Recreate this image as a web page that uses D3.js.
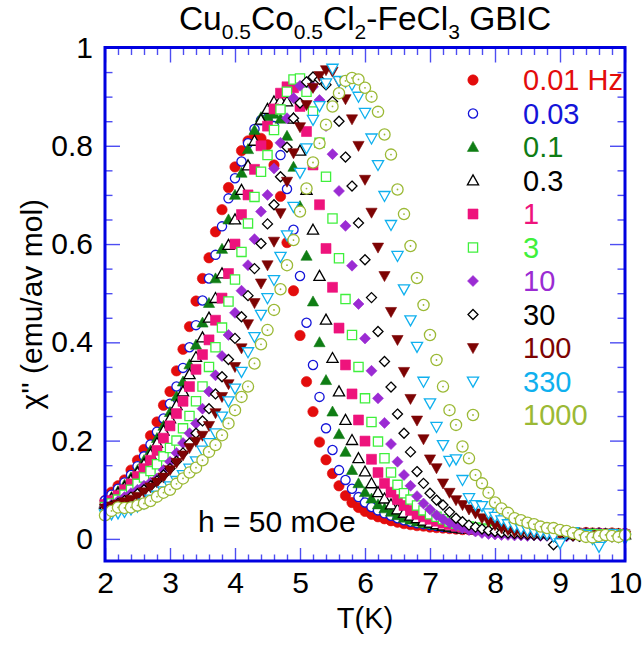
<!DOCTYPE html>
<html>
<head>
<meta charset="utf-8">
<script src="https://cdn.jsdelivr.net/npm/d3@7"></script>
<style>
  html, body { margin: 0; padding: 0; background: #fff; }
  svg { display: block; font-family: "Liberation Sans", Arial, Helvetica, sans-serif; }
</style>
</head>
<body>
<svg id="chart" width="643" height="651"></svg>
<script>
// Temperature grid of the ac-susceptibility sweep (K)
const temperatureK = [
  2.0, 2.1, 2.2, 2.3, 2.4, 2.5, 2.6, 2.7, 2.8, 2.9,
  3.0, 3.1, 3.2, 3.3, 3.4, 3.5, 3.6, 3.7, 3.8, 3.9,
  4.0, 4.1, 4.2, 4.3, 4.4, 4.5, 4.6, 4.7, 4.8, 4.9,
  5.0, 5.1, 5.2, 5.3, 5.4, 5.5, 5.6, 5.7, 5.8, 5.9,
  6.0, 6.1, 6.2, 6.3, 6.4, 6.5, 6.6, 6.7, 6.8, 6.9,
  7.0, 7.1, 7.2, 7.3, 7.4, 7.5, 7.6, 7.7, 7.8, 7.9,
  8.0, 8.1, 8.2, 8.3, 8.4, 8.5, 8.6, 8.7, 8.8, 8.9,
  9.0, 9.1, 9.2, 9.3, 9.4, 9.5, 9.6, 9.7, 9.8, 9.9, 10.0
];

// Frequency labels of the legend
const frequencyLabels = ["0.01 Hz", "0.03", "0.1", "0.3", "1", "3", "10", "30", "100", "330", "1000"];

// chi'' (emu/av mol) for each drive frequency, one value per temperature
const chi_0p01Hz = [
  .078, .095, .108, .12, .14, .16, .182, .21, .238, .272,
  .30, .342, .386, .432, .484, .53, .572, .625, .67, .715,
  .757, .79, .81, .82, .815, .802, .761, .697, .603, .505,
  .414, .32, .259, .197, .161, .133, .108, .088, .074, .064,
  .056, .05, .045, .041, .037, .034, .031, .029, .027, .026,
  .024, .023, .022, .021, .02, .019, .019, .018, .018, .017,
  .017, .016, .016, .015, .016, .015, .014, .015, .014, .013,
  .014, .013, .013, .012, .013, .012, .012, .011, .012, .011, .011
];
const chi_0p03Hz = [
  .078, .09, .102, .115, .13, .148, .168, .192, .218, .245,
  .275, .31, .348, .39, .435, .485, .53, .578, .636, .693,
  .734, .768, .805, .834, .852, .856, .84, .781, .712, .629,
  .535, .44, .354, .289, .225, .181, .14, .12, .102, .085,
  .074, .065, .058, .052, .047, .042, .038, .035, .032, .03,
  .028, .026, .024, .023, .022, .021, .02, .019, .019, .018,
  .017, .017, .016, .016, .015, .015, .014, .014, .014, .013,
  .013, .013, .012, .012, .012, .011, .012, .011, .011, .01, .011
];
const chi_0p1Hz = [
  .075, .085, .097, .11, .125, .14, .16, .18, .205, .23,
  .258, .29, .32, .355, .395, .44, .48, .53, .59, .65,
  .70, .745, .793, .832, .858, .86, .865, .855, .82, .757,
  .677, .576, .483, .40, .323, .259, .213, .177, .14, .113,
  .095, .082, .07, .062, .055, .048, .043, .039, .035, .032,
  .03, .028, .026, .024, .023, .021, .02, .019, .018, .018,
  .017, .016, .016, .015, .015, .014, .014, .013, .013, .013,
  .012, .012, .012, .011, .011, .011, .01, .011, .01, .01, .01
];
const chi_0p3Hz = [
  .072, .082, .093, .105, .12, .135, .152, .172, .195, .22,
  .245, .272, .30, .335, .37, .41, .45, .49, .54, .598,
  .65, .71, .76, .81, .853, .875, .89, .892, .89, .855,
  .79, .71, .629, .535, .446, .368, .30, .242, .201, .164,
  .137, .113, .095, .082, .07, .06, .053, .047, .042, .037,
  .033, .03, .027, .025, .023, .021, .02, .019, .018, .017,
  .016, .015, .015, .014, .013, .013, .012, .012, .011, .011,
  .01, .01, .011, .009, .01, .009, .01, .009, .009, .008, .009
];
const chi_1Hz = [
  .07, .078, .088, .10, .112, .127, .143, .16, .18, .205,
  .23, .255, .28, .31, .345, .375, .405, .445, .49, .54,
  .60, .66, .70, .752, .80, .84, .875, .907, .92, .918,
  .88, .829, .761, .68, .591, .512, .429, .354, .295, .242,
  .199, .162, .135, .113, .095, .08, .068, .058, .05, .045,
  .04, .036, .032, .029, .026, .024, .022, .02, .019, .018,
  .017, .016, .015, .015, .014, .013, .013, .012, .012, .011,
  .011, .01, .011, .01, .01, .009, .01, .009, .01, .009, .009
];
const chi_3Hz = [
  .065, .072, .08, .09, .10, .112, .125, .138, .152, .168,
  .185, .20, .225, .25, .28, .31, .35, .39, .43, .483,
  .528, .584, .642, .696, .747, .781, .832, .874, .91, .935,
  .937, .91, .87, .806, .737, .652, .571, .488, .415, .35,
  .286, .238, .198, .164, .135, .11, .093, .08, .068, .058,
  .05, .045, .04, .035, .031, .028, .025, .023, .021, .019,
  .018, .017, .016, .015, .014, .013, .013, .012, .012, .011,
  .011, .01, .01, .01, .009, .01, .009, .009, .01, .009, .008
];
const chi_10Hz = [
  .065, .07, .077, .085, .093, .10, .108, .115, .123, .14,
  .157, .175, .195, .215, .235, .265, .30, .333, .372, .415,
  .46, .505, .557, .61, .666, .70, .754, .806, .856, .897,
  .922, .93, .92, .893, .84, .783, .708, .637, .556, .478,
  .408, .342, .286, .236, .193, .157, .13, .108, .087, .072,
  .06, .048, .04, .033, .027, .022, .018, .015, .012, .01,
  .009, .008, .008, .007, .007, .006, .007, .006, .006, .005,
  .006, .005, .006, .005, .005, .006, .004, .005, .005, .004, .005
];
const chi_30Hz = [
  .062, .067, .072, .078, .085, .092, .10, .108, .118, .13,
  .143, .158, .175, .195, .215, .24, .265, .295, .33, .365,
  .408, .452, .495, .55, .601, .641, .68, .737, .797, .856,
  .887, .93, .94, .935, .924, .89, .85, .777, .718, .643,
  .568, .491, .422, .361, .309, .254, .215, .177, .137, .113,
  .093, .079, .069, .055, .042, .035, .028, .024, .02, .017,
  .015, .013, .012, .011, .01, .009, .008, .008, .007, -.012,
  .006, .007, .006, .005, .006, .004, .006, .005, .004, .005, .004
];
const chi_100Hz = [
  .062, .066, .07, .075, .08, .086, .095, .105, .115, .125,
  .14, .155, .17, .185, .198, .21, .23, .256, .289, .315,
  .35, .388, .437, .48, .52, .557, .605, .663, .727, .785,
  .838, .883, .918, .942, .954, .951, .93, .895, .854, .80,
  .731, .664, .593, .535, .462, .405, .34, .285, .241, .203,
  .162, .144, .113, .094, .079, .069, .06, .052, .042, .035,
  .028, .022, .018, .014, .012, .011, .01, .009, .009, .008,
  .008, .009, .007, .008, .007, .008, .006, .007, .006, .007, .006
];
const chi_330Hz = [
  .05, .05, .052, .055, .06, .066, .072, .08, .088, .097,
  .107, .118, .13, .143, .158, .18, .195, .215, .249, .28,
  .306, .34, .38, .411, .456, .49, .527, .574, .618, .676,
  .745, .795, .853, .881, .927, .957, .932, .93, .924, .90,
  .867, .815, .761, .698, .639, .576, .508, .445, .391, .32,
  .276, .228, .191, .159, .162, .12, .083, .069, .067, .052,
  .045, .038, .03, .025, .02, .017, .015, .012, .01, .005,
  -.009, .012, .014, .01, .008, .0, -.016, .005, .01, .004, .0
];
const chi_1000Hz = [
  .048, .057, .064, .063, .064, .068, .072, .077, .086, .094,
  .10, .112, .123, .135, .145, .16, .177, .191, .211, .235,
  .262, .289, .31, .357, .396, .425, .466, .508, .557, .608,
  .666, .713, .766, .805, .843, .88, .907, .932, .938, .935,
  .918, .90, .869, .823, .782, .711, .661, .596, .531, .476,
  .415, .364, .31, .262, .232, .188, .164, .13, .113, .094,
  .074, .062, .053, .042, .038, .033, .03, .025, .022, .022,
  .018, .016, .012, .008, .004, .003, .006, .008, .006, .004, .008
];

// Axis tick values and labels
const xTickValues = [2, 3, 4, 5, 6, 7, 8, 9, 10];
const yTickValues = [0, 0.2, 0.4, 0.6, 0.8, 1];
const yTickLabels = ["0", "0.2", "0.4", "0.6", "0.8", "1"];

// ---- styling ----
const seriesValues = [chi_0p01Hz, chi_0p03Hz, chi_0p1Hz, chi_0p3Hz, chi_1Hz, chi_3Hz,
                      chi_10Hz, chi_30Hz, chi_100Hz, chi_330Hz, chi_1000Hz];
const seriesColors = ["#e30c0c", "#1414d9", "#0f7d14", "#000000", "#ee137c", "#3ff03c",
                      "#9b2bd3", "#000000", "#7d0303", "#0fb0ee", "#9bb935"];
const seriesMarkers = ["circleFilled", "circleOpen", "triUpFilled", "triUpOpen", "squareFilled",
                       "squareOpen", "diamondFilled", "diamondOpen", "triDownFilled",
                       "triDownOpen", "circleDot"];

const plot = { left: 105, right: 625, top: 47.5, bottom: 561 };
const svg = d3.select("#chart");

const x = d3.scaleLinear().domain([2, 10]).range([plot.left, plot.right]);
const y = d3.scaleLinear().domain([-0.045, 1]).range([plot.bottom, plot.top]);

const tickColor = "#4d4df2";
const frameColor = "#0000e0";
const labelFont = 30;

// minor tick positions
const xMinor = d3.range(2, 10.001, 0.2).map(v => +v.toFixed(2)).filter(v => Math.abs(v - Math.round(v)) > 1e-6);
const yMinor = d3.range(0.05, 1, 0.05).map(v => +v.toFixed(2)).filter(v => Math.abs(v * 5 - Math.round(v * 5)) > 1e-6);

function styleAxis(g) {
  g.select(".domain").remove();
  g.selectAll(".tick line").attr("stroke", tickColor).attr("stroke-width", 1.4);
  g.selectAll(".tick text").attr("fill", "#000").attr("font-size", labelFont)
    .attr("font-family", '"Liberation Sans", Arial, sans-serif');
}

// bottom axis: inward ticks + labels
svg.append("g").attr("transform", `translate(0,${plot.bottom})`)
  .call(d3.axisBottom(x).tickValues(xTickValues).tickSize(-13).tickPadding(11).tickFormat(d3.format("d")))
  .call(styleAxis);
svg.append("g").attr("transform", `translate(0,${plot.bottom})`)
  .call(d3.axisBottom(x).tickValues(xMinor).tickSize(-6.5).tickFormat(""))
  .call(styleAxis);
// top axis
svg.append("g").attr("transform", `translate(0,${plot.top})`)
  .call(d3.axisTop(x).tickValues(xTickValues).tickSize(-15).tickFormat(""))
  .call(styleAxis);
svg.append("g").attr("transform", `translate(0,${plot.top})`)
  .call(d3.axisTop(x).tickValues(xMinor).tickSize(-7.5).tickFormat(""))
  .call(styleAxis);
// left axis
svg.append("g").attr("transform", `translate(${plot.left},0)`)
  .call(d3.axisLeft(y).tickValues(yTickValues).tickSize(-15).tickPadding(12)
    .tickFormat((d, i) => yTickLabels[i]))
  .call(styleAxis);
svg.append("g").attr("transform", `translate(${plot.left},0)`)
  .call(d3.axisLeft(y).tickValues(yMinor).tickSize(-7.5).tickFormat(""))
  .call(styleAxis);
// right axis
svg.append("g").attr("transform", `translate(${plot.right},0)`)
  .call(d3.axisRight(y).tickValues(yTickValues).tickSize(-15).tickFormat(""))
  .call(styleAxis);
svg.append("g").attr("transform", `translate(${plot.right},0)`)
  .call(d3.axisRight(y).tickValues(yMinor).tickSize(-7.5).tickFormat(""))
  .call(styleAxis);

// marker shapes
function markerPath(kind) {
  const p = d3.path();
  if (kind.startsWith("circle")) {
    const r = kind === "circleDot" ? 5.6 : (kind === "circleOpen" ? 4.6 : 5.2);
    p.arc(0, 0, r, 0, 2 * Math.PI);
  } else if (kind.startsWith("triUp")) {
    p.moveTo(0, -5.6); p.lineTo(5.6, 4.4); p.lineTo(-5.6, 4.4); p.closePath();
  } else if (kind.startsWith("triDown")) {
    p.moveTo(0, 5.6); p.lineTo(5.6, -4.4); p.lineTo(-5.6, -4.4); p.closePath();
  } else if (kind.startsWith("square")) {
    const h = kind === "squareOpen" ? 4.6 : 5;
    p.rect(-h, -h, 2 * h, 2 * h);
  } else if (kind.startsWith("diamond")) {
    const h = kind === "diamondOpen" ? 5 : 5.5;
    p.moveTo(0, -h); p.lineTo(h, 0); p.lineTo(0, h); p.lineTo(-h, 0); p.closePath();
  }
  return p.toString();
}
function drawMarker(sel, kind, color) {
  const filled = kind.endsWith("Filled");
  sel.append("path")
    .attr("d", markerPath(kind))
    .attr("fill", filled ? color : "#fff")
    .attr("stroke", color)
    .attr("stroke-width", filled ? 0.6 : 1.3);
  if (kind === "circleDot") {
    sel.append("circle").attr("r", 0.9).attr("fill", color);
  }
}

// data points, lowest frequency first
const dataLayer = svg.append("g");
seriesValues.forEach((vals, s) => {
  const pts = vals.map((v, i) => ({ t: temperatureK[i], v }));
  dataLayer.append("g")
    .selectAll("g")
    .data(pts)
    .join("g")
    .attr("transform", d => `translate(${x(d.t)},${y(d.v)})`)
    .each(function () { drawMarker(d3.select(this), seriesMarkers[s], seriesColors[s]); });
});

// frame
svg.append("rect")
  .attr("x", plot.left).attr("y", plot.top)
  .attr("width", plot.right - plot.left).attr("height", plot.bottom - plot.top)
  .attr("fill", "none").attr("stroke", frameColor).attr("stroke-width", 3);

// legend
const legend = svg.append("g");
frequencyLabels.forEach((lab, i) => {
  const ly = 80 + 33.5 * i;
  const g = legend.append("g").attr("transform", `translate(473,${ly})`);
  drawMarker(g, seriesMarkers[i], seriesColors[i]);
  legend.append("text")
    .attr("x", 523).attr("y", ly + 10.3)
    .attr("font-size", 29).attr("fill", seriesColors[i])
    .text(lab);
});

// annotation
svg.append("text").attr("x", 198).attr("y", 532).attr("font-size", 30).text("h = 50 mOe");

// title with subscripts
const title = svg.append("text").attr("x", (plot.left + plot.right) / 2).attr("y", 30)
  .attr("text-anchor", "middle").attr("font-size", 33.5);
[["Cu", 0], ["0.5", 1], ["Co", 0], ["0.5", 1], ["Cl", 0], ["2", 1], ["-FeCl", 0], ["3", 1], [" GBIC", 0]]
  .forEach(([txt, sub], i, arr) => {
    const prevSub = i > 0 ? arr[i - 1][1] : 0;
    const dy = sub && !prevSub ? 9 : (!sub && prevSub ? -9 : 0);
    title.append("tspan").attr("dy", dy).attr("font-size", sub ? 21 : 33.5).text(txt);
  });

// axis titles
svg.append("text").attr("x", (plot.left + plot.right) / 2).attr("y", 628)
  .attr("text-anchor", "middle").attr("font-size", 29).text("T(K)");
svg.append("text").attr("transform", `translate(42,${(plot.top + plot.bottom) / 2}) rotate(-90)`)
  .attr("text-anchor", "middle").attr("font-size", 30).text("χ'' (emu/av mol)");
</script>
</body>
</html>
